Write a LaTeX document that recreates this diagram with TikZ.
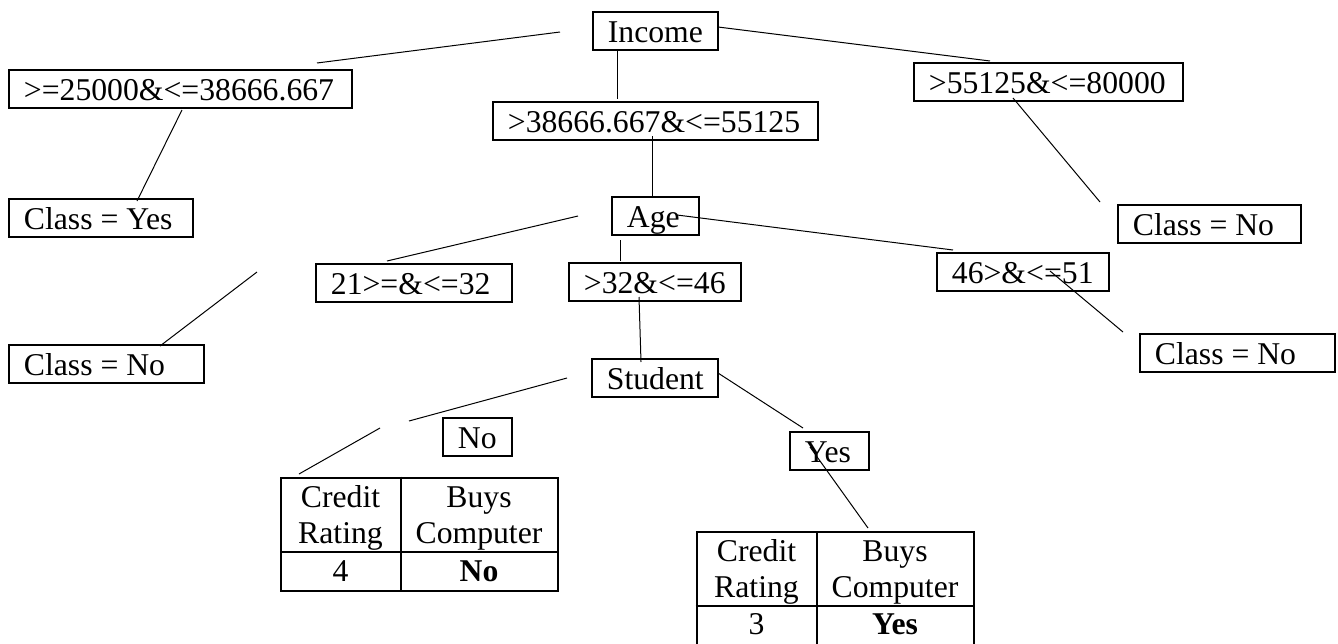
\documentclass[tikz,border=0pt]{standalone}
\usepackage{fontspec}
\setmainfont{Liberation Serif}
% type size used throughout the tree
\newcommand\treefont{\fontsize{31.7}{36}\selectfont}
% label set flush left inside a box of fixed width
\newcommand\boxlabel[2]{\makebox[#1][l]{\hspace{15pt}#2}}
\begin{document}
\begin{tikzpicture}[x=1pt,y=-1pt,
  box/.style={draw, line width=1.8pt, inner sep=0pt, minimum height=38pt,
              text height=28.5pt, text depth=4.5pt, anchor=north west, font=\treefont},
  tbl/.style={draw, line width=1.8pt, inner sep=0pt, anchor=north west},
  rule/.style={line width=1.8pt},
  link/.style={line width=1pt},
  cell/.style={inner sep=0pt, anchor=base, font=\treefont}]
\useasboundingbox (0,0) rectangle (1338,643);
\clip (0,0) rectangle (1338,643);

% ---- tree nodes ----
\node[box] (inc)  at (592,11)  {\boxlabel{125pt}{Income}};
\node[box] (r1)   at (8,69)    {\boxlabel{343pt}{>=25000\&<=38666.667}};
\node[box] (r2)   at (492,101) {\boxlabel{325pt}{>38666.667\&<=55125}};
\node[box] (r3)   at (913,62)  {\boxlabel{269pt}{>55125\&<=80000}};
\node[box] (cy)   at (8,198)   {\boxlabel{184pt}{Class = Yes}};
\node[box] (cn1)  at (1117,204){\boxlabel{183pt}{Class = No}};
\node[box] (age)  at (611,196) {\boxlabel{87pt}{Age}};
\node[box] (a1)   at (315,263) {\boxlabel{196pt}{21>=\&<=32}};
\node[box] (a2)   at (568,262) {\boxlabel{172pt}{>32\&<=46}};
\node[box] (a3)   at (936,252) {\boxlabel{172pt}{46>\&<=51}};
\node[box] (cn2)  at (8,344)   {\boxlabel{195pt}{Class = No}};
\node[box] (cn3)  at (1139,333){\boxlabel{195pt}{Class = No}};
\node[box] (stu)  at (591,358) {\boxlabel{126pt}{Student}};
\node[box] (sno)  at (442,417) {\boxlabel{69pt}{No}};
\node[box] (syes) at (789,431) {\boxlabel{79pt}{Yes}};

% ---- result tables ----
\node[tbl, minimum width=276.7pt, minimum height=113.3pt] (tl) at (280,476.7) {};
\draw[rule] (401,476.7) -- (401,590);
\draw[rule] (280,552.3) -- (556.7,552.3);
\node[cell] (tl11) at (340.5,507.3) {Credit};
\node[cell] (tl12) at (340.5,543.3) {Rating};
\node[cell] (tl21) at (479,507.3) {Buys};
\node[cell] (tl22) at (479,543.3) {Computer};
\node[cell] (tl31) at (340.5,581.7) {4};
\node[cell] (tl32) at (479,581.7) {\bfseries No};

\node[tbl, minimum width=277pt, minimum height=115pt] (tr) at (695.7,531) {};
\draw[rule] (817.3,531) -- (817.3,646);
\draw[rule] (695.7,606) -- (972.7,606);
\node[cell] (tr11) at (756.5,561.7) {Credit};
\node[cell] (tr12) at (756.5,597.7) {Rating};
\node[cell] (tr21) at (895,561.7) {Buys};
\node[cell] (tr22) at (895,597.7) {Computer};
\node[cell] (tr31) at (756.5,634.3) {3};
\node[cell] (tr32) at (895,634.3) {\bfseries Yes};

% ---- branch end points ----
\coordinate (p1a) at (317,63);   \coordinate (p1b) at (560,32);
\coordinate (p2a) at (617,50);   \coordinate (p2b) at (617,99);
\coordinate (p3a) at (718,27);   \coordinate (p3b) at (990,61);
\coordinate (p4a) at (182,110);  \coordinate (p4b) at (137,201);
\coordinate (p5a) at (1013,98);  \coordinate (p5b) at (1100,202);
\coordinate (p6a) at (652,136);  \coordinate (p6b) at (652,197);
\coordinate (p7a) at (578,216);  \coordinate (p7b) at (387,261);
\coordinate (p8a) at (677,215);  \coordinate (p8b) at (953,250);
\coordinate (p9a) at (620,240);  \coordinate (p9b) at (620,261);
\coordinate (p10a) at (257,272); \coordinate (p10b) at (160,346);
\coordinate (p11a) at (1050,271);\coordinate (p11b) at (1123,332);
\coordinate (p12a) at (639,297); \coordinate (p12b) at (641,362);
\coordinate (p13a) at (567,378); \coordinate (p13b) at (409,421);
\coordinate (p14a) at (380,428); \coordinate (p14b) at (299,474);
\coordinate (p15a) at (718,373); \coordinate (p15b) at (803,428);
\coordinate (p16a) at (810,447); \coordinate (p16b) at (868,528);

% ---- branches ----
\foreach \k in {1,...,16} \draw[link] (p\k a) -- (p\k b);
\end{tikzpicture}
\end{document}
